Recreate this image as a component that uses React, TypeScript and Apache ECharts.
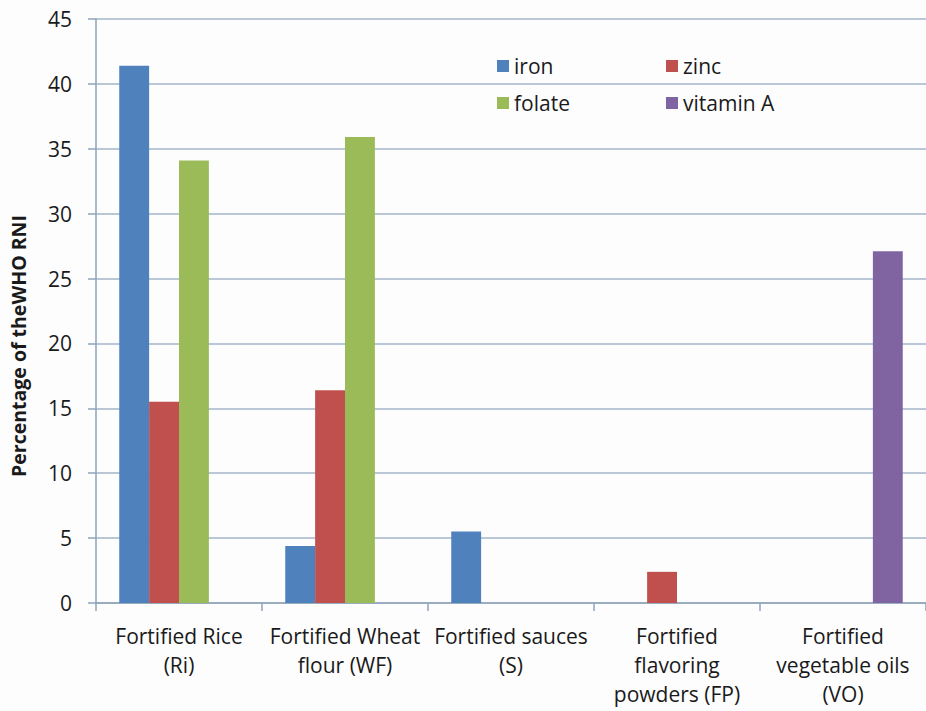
import React, { useEffect, useRef } from "react";
import * as echarts from "echarts";

// Food vehicles on the x axis (line breaks as printed under each group)
const categories = [
  "Fortified Rice\n(Ri)",
  "Fortified Wheat\nflour (WF)",
  "Fortified sauces\n(S)",
  "Fortified\nflavoring\npowders (FP)",
  "Fortified\nvegetable oils\n(VO)",
];

// Share of the WHO RNI supplied, per micronutrient (null = not fortified)
const iron = [41.4, 4.4, 5.5, null, null];
const zinc = [15.5, 16.4, null, 2.4, null];
const folate = [34.1, 35.9, null, null, null];
const vitaminA = [null, null, null, null, 27.1];

const seriesNames = ["iron", "zinc", "folate", "vitamin A"];
const seriesColors = ["#4F81BD", "#C0504D", "#9BBB59", "#8064A2"];

const yTicks = { min: 0, max: 45, interval: 5 };
const yTitle = "Percentage of theWHO RNI";

const FONT = "'Open Sans', Lato, sans-serif";
const INK = "#1a1a1a";

export default function App() {
  const ref = useRef<HTMLDivElement>(null);

  useEffect(() => {
    if (!ref.current) return;
    const chart = echarts.init(ref.current, undefined, { renderer: "svg" });
    const values = [iron, zinc, folate, vitaminA];

    const legendBase = {
      orient: "vertical",
      top: 49,
      itemWidth: 12,
      itemHeight: 12,
      itemGap: 13,
      icon: "rect",
      textStyle: { fontSize: 21, lineHeight: 24, color: INK, fontFamily: FONT },
    };

    chart.setOption({
      animation: false,
      backgroundColor: "#fdfdfe",
      grid: { left: 96, right: -5, top: 19, bottom: 108, containLabel: false },
      legend: [
        { ...legendBase, data: ["iron", "folate"], left: 492 },
        { ...legendBase, data: ["zinc", "vitamin A"], left: 661 },
      ],
      // Rotated y-axis title
      graphic: [
        {
          type: "text",
          x: 18,
          y: 346,
          rotation: Math.PI / 2,
          style: {
            text: yTitle,
            fontSize: 19.5,
            fontWeight: "bold",
            fill: INK,
            fontFamily: FONT,
            align: "center",
            verticalAlign: "middle",
          },
        },
      ],
      xAxis: {
        type: "category",
        data: categories,
        axisLine: { lineStyle: { color: "#8FA3B8", width: 1.5 } },
        axisTick: { show: true, length: 8, lineStyle: { color: "#8FA3B8", width: 1.5 } },
        axisLabel: {
          interval: 0,
          margin: 18,
          fontSize: 21,
          lineHeight: 29,
          color: INK,
          fontFamily: FONT,
        },
      },
      yAxis: {
        type: "value",
        min: yTicks.min,
        max: yTicks.max,
        interval: yTicks.interval,
        axisLine: { show: true, lineStyle: { color: "#8FA3B8", width: 1.5 } },
        axisTick: { show: true, length: 8, lineStyle: { color: "#8FA3B8", width: 1.5 } },
        axisLabel: {
          margin: 24,
          fontSize: 21,
          color: INK,
          fontFamily: FONT,
        },
        splitLine: { lineStyle: { color: "#A3B5C8", width: 1.5 } },
      },
      series: seriesNames.map((name, i) => ({
        name,
        type: "bar",
        data: values[i],
        barGap: "0%",
        barCategoryGap: "28%",
        itemStyle: { color: seriesColors[i] },
      })),
    });

    return () => chart.dispose();
  }, []);

  return (
    <div
      ref={ref}
      style={{ position: "absolute", left: 0, top: 0, width: 926, height: 711 }}
    />
  );
}
